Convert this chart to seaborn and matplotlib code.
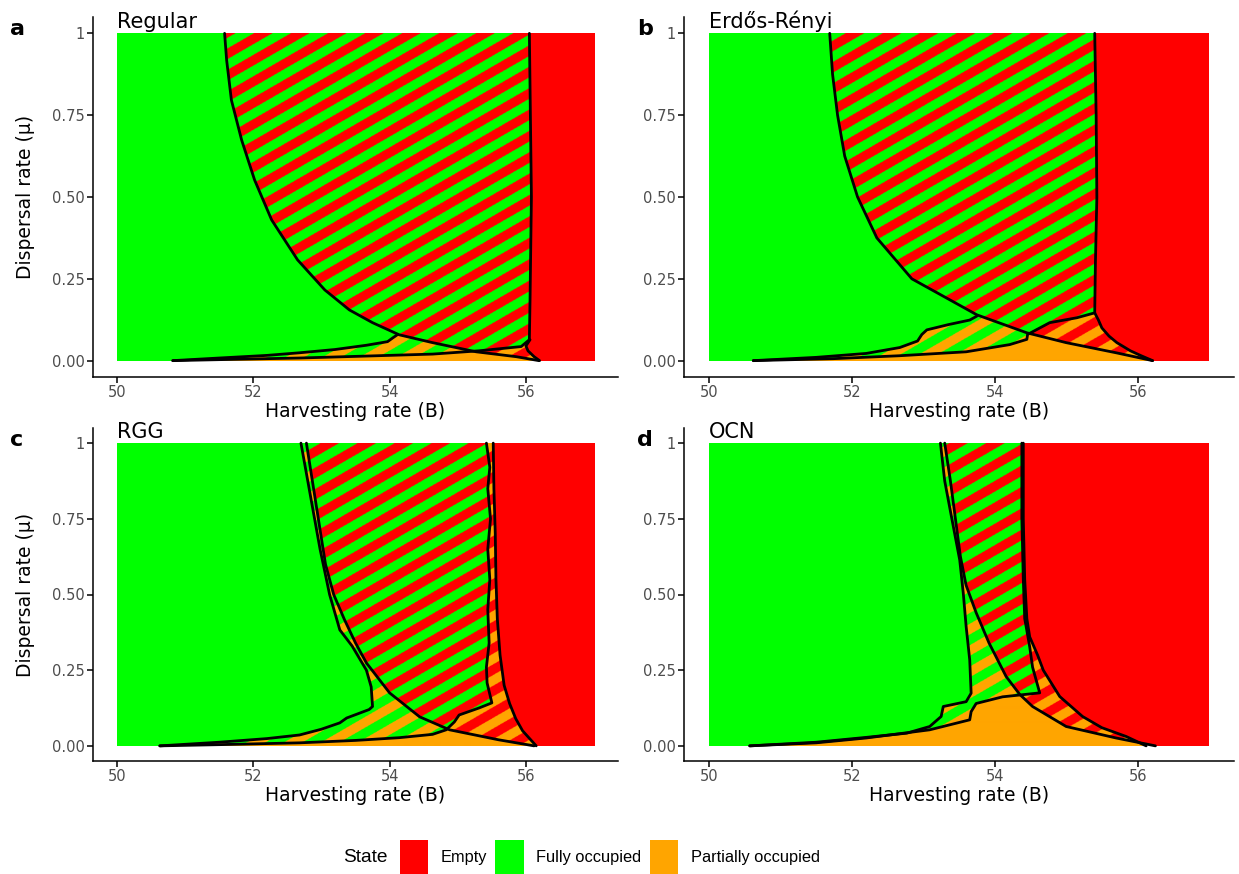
import numpy as np
import matplotlib
matplotlib.use("Agg")
import matplotlib.pyplot as plt
import seaborn as sns
from matplotlib.path import Path
from matplotlib.patches import Patch

# === boundary curves (B, mu) ===
# full_edge: right edge of the fully-occupied region (top -> bottom)
# empty_edge: left edge of the empty region (top -> bottom)
# part_left / part_right: edges of the partially-occupied region

reg_full_edge = [(56.05, 1.0), (56.08, 0.5), (56.06, 0.186), (56.05, 0.064), (55.93, 0.043),
                 (55.31, 0.03), (54.63, 0.02), (53.5, 0.013), (52.68, 0.008), (51.5, 0.003), (50.82, 0.0)]
reg_empty_edge = [(51.58, 1.0), (51.61, 0.918), (51.68, 0.796), (51.83, 0.674), (52.02, 0.552),
                  (52.27, 0.43), (52.65, 0.308), (53.05, 0.216), (53.41, 0.155), (53.75, 0.116),
                  (54.14, 0.079), (54.63, 0.055), (55.27, 0.027), (55.86, 0.012), (56.19, 0.0)]
reg_part_left = [(50.82, 0.0), (51.5, 0.008), (52.2, 0.016), (52.68, 0.024), (53.2, 0.034),
                 (53.66, 0.047), (53.97, 0.058), (54.05, 0.07), (54.12, 0.08)]
reg_part_right = [(56.06, 0.064), (56.0, 0.045), (56.03, 0.03), (56.12, 0.012), (56.2, 0.0)]

er_full_edge = [(55.40, 1.0), (55.42, 0.75), (55.43, 0.5), (55.41, 0.3), (55.40, 0.146),
                (55.15, 0.131), (54.77, 0.116), (54.46, 0.08), (54.45, 0.065), (54.21, 0.049),
                (53.6, 0.027), (52.67, 0.015), (51.74, 0.006), (50.62, 0.0)]
er_empty_edge = [(51.69, 1.0), (51.73, 0.875), (51.80, 0.75), (51.90, 0.625), (52.08, 0.5),
                 (52.35, 0.375), (52.84, 0.25), (53.37, 0.186), (53.75, 0.14), (54.45, 0.085),
                 (55.0, 0.055), (55.7, 0.024), (56.21, 0.0)]
er_part_left = [(50.62, 0.0), (51.5, 0.01), (52.2, 0.022), (52.67, 0.04), (52.92, 0.06),
                (52.98, 0.08), (53.05, 0.094), (53.35, 0.11), (53.65, 0.124), (53.75, 0.136)]
er_part_right = [(55.40, 0.146), (55.45, 0.125), (55.5, 0.1), (55.6, 0.075), (55.71, 0.055),
                 (55.9, 0.03), (56.05, 0.015), (56.21, 0.0)]

rgg_full_edge = [(55.42, 1.0), (55.47, 0.92), (55.44, 0.85), (55.48, 0.75), (55.44, 0.65),
                 (55.47, 0.55), (55.44, 0.45), (55.46, 0.34), (55.42, 0.26), (55.43, 0.208),
                 (55.5, 0.142), (55.31, 0.125), (55.02, 0.102), (54.95, 0.079), (54.83, 0.053),
                 (54.63, 0.038), (54.14, 0.027), (53.5, 0.018), (52.68, 0.01), (51.5, 0.004), (50.63, 0.0)]
rgg_empty_edge = [(52.78, 1.0), (52.92, 0.8), (53.06, 0.6), (53.18, 0.5), (53.34, 0.416),
                  (53.5, 0.34), (53.66, 0.274), (54.0, 0.175), (54.44, 0.096), (54.88, 0.053),
                  (55.6, 0.02), (56.12, 0.0)]
rgg_part_left = [(50.63, 0.0), (51.5, 0.012), (52.2, 0.024), (52.68, 0.036), (53.0, 0.055),
                 (53.27, 0.076), (53.37, 0.092), (53.7, 0.12), (53.75, 0.13), (53.73, 0.195),
                 (53.66, 0.25), (53.45, 0.33), (53.27, 0.383), (53.12, 0.5), (52.98, 0.65),
                 (52.9, 0.75), (52.78, 0.9), (52.70, 1.0)]
rgg_part_right = [(55.52, 1.0), (55.53, 0.85), (55.55, 0.7), (55.56, 0.55), (55.58, 0.42),
                  (55.62, 0.3), (55.68, 0.2), (55.76, 0.14), (55.85, 0.09), (55.95, 0.05), (56.15, 0.0)]

ocn_full_edge = [(54.38, 1.0), (54.38, 0.75), (54.40, 0.55), (54.42, 0.42), (54.44, 0.394),
                 (54.49, 0.327), (54.53, 0.26), (54.63, 0.175), (54.11, 0.162), (53.74, 0.14),
                 (53.67, 0.113), (53.65, 0.086), (53.09, 0.053), (52.2, 0.026), (51.5, 0.01), (50.57, 0.0)]
ocn_empty_edge = [(53.3, 1.0), (53.38, 0.875), (53.45, 0.75), (53.52, 0.625), (53.6, 0.53),
                  (53.74, 0.44), (53.92, 0.34), (54.16, 0.229), (54.35, 0.17), (54.53, 0.13),
                  (55.0, 0.064), (55.7, 0.026), (56.25, 0.0)]
ocn_part_left = [(50.57, 0.0), (51.5, 0.012), (52.2, 0.028), (52.77, 0.042), (53.09, 0.064),
                 (53.25, 0.097), (53.28, 0.13), (53.6, 0.146), (53.67, 0.174), (53.65, 0.284),
                 (53.6, 0.394), (53.56, 0.504), (53.51, 0.614), (53.4, 0.75), (53.3, 0.875), (53.24, 1.0)]
ocn_part_right = [(54.40, 1.0), (54.40, 0.75), (54.42, 0.55), (54.45, 0.42), (54.49, 0.36),
                  (54.6, 0.3), (54.68, 0.25), (54.91, 0.163), (55.23, 0.097), (55.5, 0.06),
                  (55.84, 0.031), (56.12, 0.0)]

networks = ["Regular", "Erdős-Rényi", "RGG", "OCN"]
letters = ["a", "b", "c", "d"]
panels = [
    (reg_full_edge, reg_empty_edge, reg_part_left, reg_part_right),
    (er_full_edge, er_empty_edge, er_part_left, er_part_right),
    (rgg_full_edge, rgg_empty_edge, rgg_part_left, rgg_part_right),
    (ocn_full_edge, ocn_empty_edge, ocn_part_left, ocn_part_right),
]
states = ["Empty", "Fully occupied", "Partially occupied"]
state_colors = {"Empty": "#FF0000", "Fully occupied": "#00FF00", "Partially occupied": "#FFA500"}

B_MIN, B_MAX = 50, 57

sns.set_theme(style="ticks")
plt.rcParams['font.family'] = ['DejaVu Sans']
plt.rcParams['text.color'] = 'black'
plt.rcParams['axes.labelcolor'] = 'black'

W, H = 1239, 874
fig = plt.figure(figsize=(W / 100, H / 100), dpi=100)

# pixel boxes of the panels (left, right, top, bottom) and letter x position
boxes = [(93, 618, 17, 377), (684, 1234, 17, 377), (93, 618, 428, 761), (684, 1234, 428, 761)]
letter_x = [10, 637, 10, 637]


def to_rgb(c):
    return np.array(matplotlib.colors.to_rgb(c))


def region_paths(full_edge, empty_edge, part_left, part_right):
    g = [(40, 1.2), (full_edge[0][0], 1.2)] + full_edge + [(full_edge[-1][0], -0.2), (40, -0.2)]
    r = [(empty_edge[0][0], 1.2)] + empty_edge + [(empty_edge[-1][0], -0.2), (70, -0.2), (70, 1.2)]
    o = [(part_left[0][0], -0.2)] + part_left
    if part_left[-1][1] >= 1:
        o += [(part_left[-1][0], 1.2), (part_right[0][0], 1.2)]
    o += part_right + [(part_right[-1][0], -0.2)]
    return Path(g), Path(r), Path(o)


def draw_panel(ax, full_edge, empty_edge, part_left, part_right):
    x0, y0 = ax.transData.transform((B_MIN, 0))
    x1, y1 = ax.transData.transform((B_MAX, 1))
    ss = 2
    nx, ny = int(round((x1 - x0) * ss)), int(round((y1 - y0) * ss))
    px = x0 + (np.arange(nx) + 0.5) / ss
    py = y0 + (np.arange(ny) + 0.5) / ss
    PX, PY = np.meshgrid(px, py)
    Bg = B_MIN + (PX - x0) / (x1 - x0) * (B_MAX - B_MIN)
    Mg = (PY - y0) / (y1 - y0)
    pts = np.column_stack([Bg.ravel(), Mg.ravel()])
    gp, rp, op = region_paths(full_edge, empty_edge, part_left, part_right)
    G = gp.contains_points(pts).reshape(Bg.shape)
    R = rp.contains_points(pts).reshape(Bg.shape)
    O = op.contains_points(pts).reshape(Bg.shape)

    # diagonal stripes for bistable zones
    ang = np.deg2rad(30)
    period = 18.5
    s = -PX * np.sin(ang) + PY * np.cos(ang)
    stripe = np.mod(s, period) < period * 0.5

    red, green, orange = (to_rgb(state_colors[k]) for k in states)
    img = np.ones(Bg.shape + (3,))
    img[R] = red
    img[O & ~G & ~R] = orange
    img[G & ~R & ~O] = green
    gr = G & R
    img[gr] = green
    img[gr & stripe] = red
    go = G & O & ~R
    img[go] = green
    img[go & stripe] = orange
    orr = O & R & ~G
    img[orr] = orange
    img[orr & stripe] = red
    ax.imshow(img, origin="lower", extent=(B_MIN, B_MAX, 0, 1), aspect="auto",
              interpolation="antialiased", zorder=1)

    for curve in (full_edge, empty_edge, part_left, part_right):
        xs = [p[0] for p in curve]
        ys = [p[1] for p in curve]
        sns.lineplot(x=xs, y=ys, sort=False, estimator=None, color="black",
                     linewidth=2.0, ax=ax, zorder=3)


for i, (name, letter, curves, box) in enumerate(zip(networks, letters, panels, boxes)):
    l, r, t, b = box
    ax = fig.add_axes([l / W, 1 - b / H, (r - l) / W, (b - t) / H])
    ax.set_xlim(49.65, 57.35)
    ax.set_ylim(-0.05, 1.05)
    draw_panel(ax, *curves)
    sns.despine(ax=ax)
    for sp in ("left", "bottom"):
        ax.spines[sp].set_linewidth(1.1)
        ax.spines[sp].set_color("black")
    ax.set_xticks([50, 52, 54, 56])
    ax.set_yticks([0, 0.25, 0.5, 0.75, 1])
    ax.set_yticklabels(["0.00", "0.25", "0.50", "0.75", "1"])
    ax.tick_params(axis="both", length=4, width=1.1, color="black", labelsize=10.5,
                   labelcolor="#4D4D4D", pad=2)
    ax.set_xlabel("Harvesting rate (B)", fontsize=13.5, labelpad=1)
    if i % 2 == 0:
        ax.set_ylabel("Dispersal rate (μ)", fontsize=13.5, labelpad=12)
    else:
        ax.set_ylabel("")
    ax.annotate(name, xy=(B_MIN, 1), xytext=(0, 4), textcoords="offset points",
                ha="left", va="baseline", fontsize=15, color="black")
    fig.text(letter_x[i] / W, 1 - (t + 12) / H, letter, fontsize=16, fontweight="bold",
             ha="left", va="center")

# legend
fig.text(343 / W, 1 - 858 / H, "State", fontsize=13.8, ha="left", va="center",
         family=["Liberation Sans", "DejaVu Sans"])
handles = [Patch(facecolor=state_colors[k], edgecolor="none", label=k) for k in states]
fig.legend(handles=handles, loc="center left", bbox_to_anchor=(385 / W, 1 - 857 / H),
           ncol=3, frameon=False, handlelength=1.75, handleheight=2.85, handletextpad=0.75,
           columnspacing=0.5, prop={"family": "Liberation Sans", "size": 11.8})

fig.savefig("out.png", dpi=100)
